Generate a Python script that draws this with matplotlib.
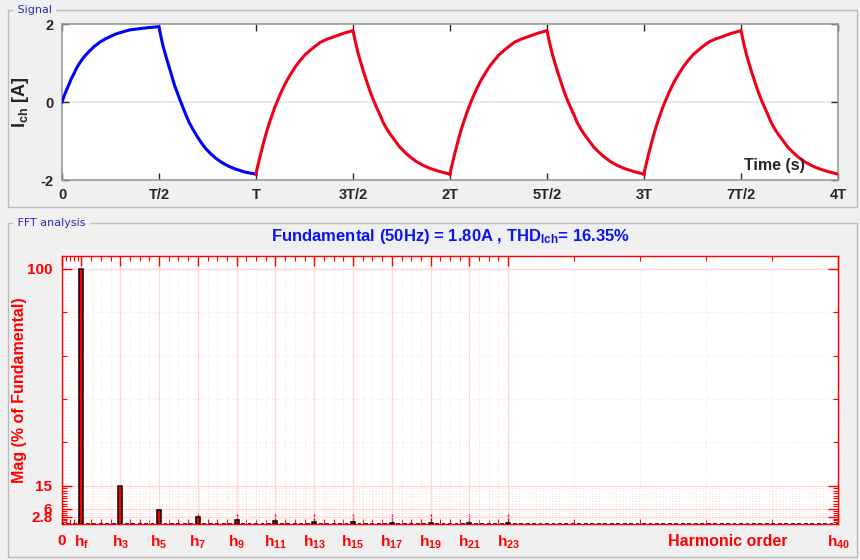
import numpy as np
import matplotlib
matplotlib.use("Agg")
import matplotlib.pyplot as plt
from matplotlib.patches import Rectangle

plt.rcParams['font.family'] = ['Liberation Sans', 'DejaVu Sans']
plt.rcParams['mathtext.fontset'] = 'custom'
plt.rcParams['mathtext.rm'] = 'Liberation Sans:bold'
plt.rcParams['mathtext.it'] = 'Liberation Sans:bold'
plt.rcParams['mathtext.bf'] = 'Liberation Sans:bold'
plt.rcParams['mathtext.default'] = 'rm'
plt.rcParams['axes.unicode_minus'] = False

# ---------------- data ----------------
# signal: fractions of a half-period and current values (A)
blue_rise_frac = [0, 0.02, 0.045, 0.07, 0.096, 0.12, 0.148, 0.18, 0.216, 0.25, 0.285, 0.33,
                  0.388, 0.44, 0.491, 0.55, 0.629, 0.70, 0.80, 0.90, 1.0]
blue_rise_val = [0, 0.14, 0.30, 0.44, 0.60, 0.71, 0.86, 0.99, 1.12, 1.22, 1.31, 1.42,
                 1.53, 1.61, 1.67, 1.74, 1.80, 1.85, 1.88, 1.91, 1.93]
blue_fall_frac = [0, 0.012, 0.024, 0.04, 0.058, 0.083, 0.109, 0.135, 0.16, 0.185, 0.211,
                  0.245, 0.279, 0.31, 0.347, 0.39, 0.432, 0.48, 0.534, 0.59, 0.653, 0.72,
                  0.789, 0.89, 1.0]
blue_fall_val = [1.93, 1.78, 1.63, 1.45, 1.29, 1.07, 0.86, 0.64, 0.43, 0.26, 0.09,
                 -0.13, -0.34, -0.52, -0.69, -0.87, -1.03, -1.19, -1.33, -1.45, -1.56, -1.65,
                 -1.72, -1.80, -1.85]
red_rise_frac = [0, 0.012, 0.027, 0.043, 0.062, 0.087, 0.113, 0.14, 0.165, 0.19, 0.216,
                 0.25, 0.285, 0.325, 0.371, 0.41, 0.457, 0.505, 0.560, 0.61, 0.663, 0.73,
                 0.80, 0.90, 1.0]
red_rise_val = [-1.85, -1.70, -1.55, -1.38, -1.20, -0.96, -0.73, -0.52, -0.34, -0.16, 0.0,
                0.20, 0.39, 0.58, 0.77, 0.92, 1.07, 1.21, 1.33, 1.43, 1.53, 1.61,
                1.67, 1.76, 1.83]
red_fall_frac = [0, 0.012, 0.024, 0.04, 0.058, 0.083, 0.109, 0.135, 0.16, 0.185, 0.212,
                 0.245, 0.28, 0.31, 0.348, 0.39, 0.433, 0.48, 0.536, 0.59, 0.655, 0.72,
                 0.792, 0.89, 1.0]
red_fall_val = [1.83, 1.69, 1.55, 1.38, 1.20, 0.99, 0.77, 0.58, 0.39, 0.21, 0.04,
                -0.15, -0.34, -0.52, -0.69, -0.85, -0.99, -1.15, -1.29, -1.41, -1.53, -1.62,
                -1.70, -1.78, -1.85]
red_periods = [1, 2, 3]  # start of each steady-state period (in T)

time_ticks = [0, 0.5, 1, 1.5, 2, 2.5, 3, 3.5, 4]
time_labels = ['0', 'T/2', 'T', '3T/2', '2T', '5T/2', '3T', '7T/2', '4T']

# FFT: odd harmonic orders and magnitudes (% of fundamental)
harm_orders = [1, 3, 5, 7, 9, 11, 13, 15, 17, 19, 21, 23]
harm_mags = [100, 14.9, 5.6, 2.7, 1.6, 1.1, 0.8, 0.6, 0.5, 0.4, 0.3, 0.25]
bins_per_harm = 3          # FFT over 3 cycles -> bins every 1/3 harmonic
max_order = 40

fft_ytick_vals = [2.8, 6, 15, 100]
fft_ytick_labels = ['2.8', '6', '15', '100']
fft_xtick_vals = [0] + harm_orders + [40]
fft_xtick_labels = ['0', r'h$_{f}$'] + [r'h$_{%d}$' % h for h in harm_orders[1:]] + [r'h$_{40}$']

title_text = r'Fundamental (50Hz) = 1.80A , THD$_{Ich}$= 16.35%'

# ---------------- figure ----------------
W, H = 860, 560
fig = plt.figure(figsize=(8.6, 5.6), dpi=100, facecolor='#f0f0f0')

def fx(px):
    return px / W

def fy(py):
    return 1 - py / H

def panel(x0, y0, x1, y1, title):
    r = Rectangle((fx(x0), fy(y1)), fx(x1 - x0), (y1 - y0) / H, transform=fig.transFigure,
                  fill=False, edgecolor='#bcbcbc', linewidth=1.0, zorder=0)
    fig.add_artist(r)
    fig.text(fx(x0 + 6), fy(y0), ' ' + title + ' ', color='#2a2ab8', fontsize=8,
             ha='left', va='center', family='DejaVu Sans',
             bbox=dict(facecolor='#f0f0f0', edgecolor='none', pad=0.5))

panel(8, 10, 857, 207, 'Signal')
panel(8, 223, 857, 557, 'FFT analysis')

# ---------------- signal axes ----------------
ax1 = fig.add_axes([fx(62), fy(180), fx(838 - 62), (180 - 24) / H])
ax1.set_facecolor('white')

t_b1 = 0.5 * np.array(blue_rise_frac)
t_b2 = 0.5 + 0.5 * np.array(blue_fall_frac)
ax1.plot(np.concatenate([t_b1, t_b2]), np.concatenate([blue_rise_val, blue_fall_val]),
         color='#0000ff', lw=2.2, solid_joinstyle='round', zorder=3)
for p in red_periods:
    tr = p + 0.5 * np.array(red_rise_frac)
    tf = p + 0.5 + 0.5 * np.array(red_fall_frac)
    ax1.plot(np.concatenate([tr, tf]), np.concatenate([red_rise_val, red_fall_val]),
             color='#f00018', lw=2.2, solid_joinstyle='round', zorder=3)

ax1.set_xlim(0, 4)
ax1.set_ylim(-2, 2)
ax1.set_xticks(time_ticks)
ax1.set_xticklabels(time_labels)
ax1.set_yticks([-2, 0, 2])
ax1.axhline(0, color='#e8e8e8', lw=1.2, zorder=1)
ax1.tick_params(direction='in', length=5, width=1, color='#262626',
                top=True, right=True, labelsize=10.5, labelcolor='#262626', pad=6)
for lab in ax1.get_xticklabels() + ax1.get_yticklabels():
    lab.set_fontweight('bold')
for s in ax1.spines.values():
    s.set_color('#9a9a9a')
    s.set_linewidth(1.2)
ax1.set_ylabel(r'I$_{ch}$ [A]', fontsize=13, fontweight='bold', color='#262626')
ax1.yaxis.set_label_coords((31 - 62) / 776, 0.5)
ax1.text(3.83, -1.63, 'Time (s)', ha='right', va='center', fontsize=11.5,
         fontweight='bold', color='#262626', zorder=4)

# ---------------- FFT axes ----------------
ax2 = fig.add_axes([fx(62), fy(524), fx(838 - 62), (524 - 256) / H])
ax2.set_facecolor('white')

n_bins = max_order * bins_per_harm + 1
bin_pos = np.arange(n_bins) / bins_per_harm
bin_mag = np.zeros(n_bins)
for h, m in zip(harm_orders, harm_mags):
    bin_mag[h * bins_per_harm] = m

ax2.bar(bin_pos, bin_mag, width=0.2, color='#ff0000', edgecolor='black',
        linewidth=1.1, zorder=3)

ax2.set_xlim(0, 40)
ax2.set_ylim(0, 105)
ax2.set_xticks(fft_xtick_vals)
ax2.set_xticklabels(fft_xtick_labels)
minor_x = list(np.arange(0.2, 1.0, 0.2)) + [v for v in np.arange(1.5, 23, 0.5) if v % 2 != 1] \
    + list(np.linspace(23, 40, 6)[1:-1])
ax2.set_xticks(minor_x, minor=True)
ax2.set_yticks(fft_ytick_vals)
ax2.set_yticklabels(fft_ytick_labels)
minor_y = list(np.linspace(0, 2.8, 5)[1:-1]) + list(np.linspace(2.8, 6, 5)[1:-1]) \
    + list(np.linspace(6, 15, 10)[1:-1]) + list(np.linspace(15, 100, 6)[1:-1])
ax2.set_yticks(minor_y, minor=True)

ax2.grid(True, which='major', color='#ffd6d6', lw=0.9, ls='-', zorder=0)
ax2.grid(True, which='minor', color='#ffcccc', lw=0.6, ls=(0, (1, 3)), zorder=0)
ax2.set_axisbelow(True)
ax2.tick_params(which='major', direction='in', length=7, width=1, color='#ff0000',
                top=True, right=True, labelsize=11, labelcolor='#ff0000', pad=7)
ax2.tick_params(which='minor', direction='in', length=3.5, width=0.8, color='#ff0000',
                top=True, right=True)
for lab in ax2.get_xticklabels() + ax2.get_yticklabels():
    lab.set_fontweight('bold')
for s in ax2.spines.values():
    s.set_color('#ff0000')
    s.set_linewidth(1.0)
ax2.set_ylabel('Mag (% of Fundamental)', fontsize=11.5, fontweight='bold', color='#ff0000')
ax2.yaxis.set_label_coords((27 - 62) / 776, 0.5)
ax2.text((728 - 62) / 776, -0.065, 'Harmonic order', transform=ax2.transAxes,
         ha='center', va='center', fontsize=11.5, fontweight='bold', color='#ff0000')
fig.text(fx(450), fy(237), title_text, ha='center', va='center', fontsize=12,
         fontweight='bold', color='#0a14f0')

fig.savefig('out.png', dpi=100, facecolor=fig.get_facecolor())
